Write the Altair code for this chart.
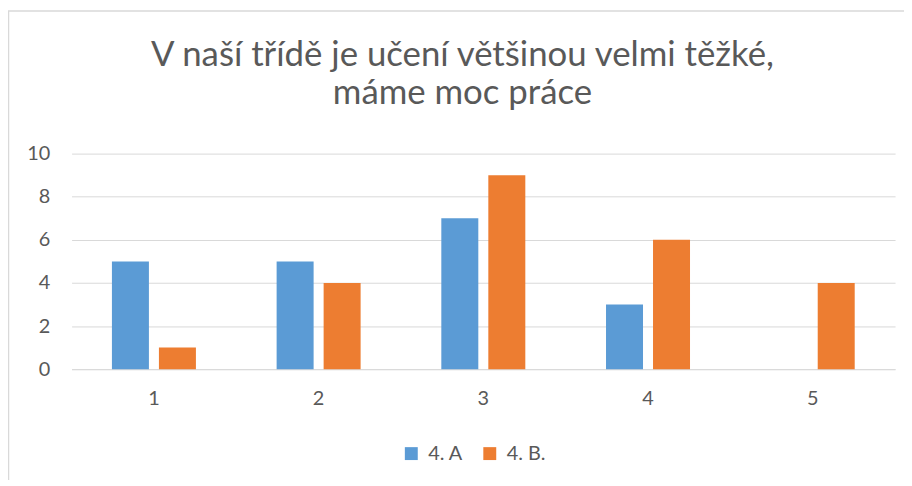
import altair as alt
import pandas as pd

categories = ["1", "2", "3", "4", "5"]
series_a = [5, 5, 7, 3, 0]
series_b = [1, 4, 9, 6, 4]
series_names = ["4. A", "4. B."]
colors = ["#5B9BD5", "#ED7D31"]
y_ticks = [0, 2, 4, 6, 8, 10]
title_lines = ["V naší třídě je učení většinou velmi těžké,", "máme moc práce"]

rows = []
for c, a, b in zip(categories, series_a, series_b):
    rows.append({"cat": c, "series": series_names[0], "value": a})
    rows.append({"cat": c, "series": series_names[1], "value": b})
df = pd.DataFrame(rows)

FONT = "Lato"
GRAY = "#595959"
GRID = "#D9D9D9"

bars = alt.Chart(df).mark_bar().encode(
    x=alt.X("cat:N", sort=categories, title=None,
            scale=alt.Scale(paddingInner=0.49, paddingOuter=0.245),
            axis=alt.Axis(labelAngle=0, ticks=False, domainColor=GRID, domainWidth=1,
                          labelFont=FONT, labelFontSize=20, labelColor=GRAY, labelPadding=20)),
    xOffset=alt.XOffset("series:N", sort=series_names,
                        scale=alt.Scale(paddingInner=0.213, paddingOuter=0)),
    y=alt.Y("value:Q", title=None,
            scale=alt.Scale(domain=[0, 10]),
            axis=alt.Axis(values=y_ticks, domain=False, ticks=False, gridColor=GRID, gridWidth=1,
                          labelFont=FONT, labelFontSize=20, labelColor=GRAY, labelPadding=22)),
    color=alt.Color("series:N", sort=series_names,
                    scale=alt.Scale(domain=series_names, range=colors),
                    legend=alt.Legend(title=None, orient="none", direction="horizontal",
                                      legendX=332, legendY=292, symbolType="square",
                                      symbolSize=169, symbolStrokeWidth=0, labelFont=FONT,
                                      labelFontSize=20, labelColor=GRAY, labelOffset=7,
                                      columnPadding=17)),
)

border = alt.Chart(pd.DataFrame({"v": [0]})).mark_rect(
    fill=None, stroke=GRID, strokeWidth=1.5
).encode(
    x=alt.value(-63.5), x2=alt.value(860), y=alt.value(-143.5), y2=alt.value(360)
)

chart = alt.layer(border, bars).properties(
    width=829, height=217,
    title=alt.TitleParams(text=title_lines, font=FONT, fontSize=35, fontWeight="normal",
                          color=GRAY, anchor="middle", frame="group", dx=-21, offset=-101,
                          lineHeight=38),
    autosize=alt.AutoSizeParams(type="none"),
    padding={"left": 64, "top": 145, "right": 9, "bottom": 110},
).configure(background="white").configure_view(stroke=None)

chart.save("out.html", embed_options={"renderer": "svg", "actions": False})
